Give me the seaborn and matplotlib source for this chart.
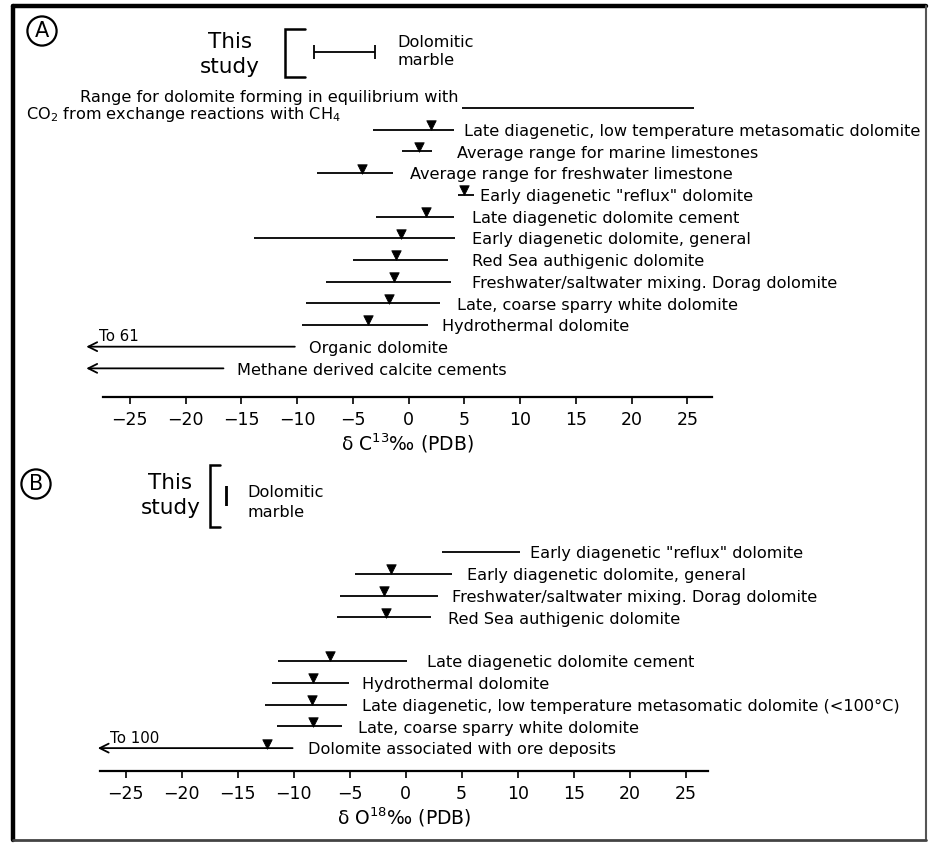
import numpy as np
import pandas as pd
import matplotlib
matplotlib.use("Agg")
import matplotlib.pyplot as plt
import matplotlib.transforms as mtransforms
from matplotlib.lines import Line2D
import seaborn as sns

nan = np.nan

# ---------------- Panel A : delta 13C (per mil PDB) ----------------
a_labels = [
    "Range for dolomite forming in equilibrium with",
    "Late diagenetic, low temperature metasomatic dolomite",
    "Average range for marine limestones",
    "Average range for freshwater limestone",
    'Early diagenetic "reflux" dolomite',
    "Late diagenetic dolomite cement",
    "Early diagenetic dolomite, general",
    "Red Sea authigenic dolomite",
    "Freshwater/saltwater mixing. Dorag dolomite",
    "Late, coarse sparry white dolomite",
    "Hydrothermal dolomite",
    "Organic dolomite",
    "Methane derived calcite cements",
]
a_low = [4.8, -3.2, -0.6, -8.2, 4.4, -2.9, -13.9, -5.0, -7.4, -9.2, -9.6, -28.9, -28.9]
a_high = [25.6, 4.1, 2.1, -1.4, 5.9, 4.1, 4.2, 3.5, 3.8, 2.8, 1.7, -10.2, -16.6]
a_mean = [nan, 2.0, 0.9, -4.2, 5.0, 1.6, -0.7, -1.1, -1.3, -1.8, -3.6, nan, nan]
a_open = [False, False, False, False, False, False, False, False, False, False, False, True, True]
a_note = ["", "", "", "", "", "", "", "", "", "", "", "To 61", ""]
a_study = [-8.5, -3.0]
a_xlabel = r"δ C$^{13}$‰ (PDB)"

# ---------------- Panel B : delta 18O (per mil PDB) ----------------
b_labels = [
    'Early diagenetic "reflux" dolomite',
    "Early diagenetic dolomite, general",
    "Freshwater/saltwater mixing. Dorag dolomite",
    "Red Sea authigenic dolomite",
    "Late diagenetic dolomite cement",
    "Hydrothermal dolomite",
    "Late diagenetic, low temperature metasomatic dolomite (<100\u00b0C)",
    "Late, coarse sparry white dolomite",
    "Dolomite associated with ore deposits",
]
b_low = [3.2, -4.5, -5.9, -6.1, -11.4, -11.9, -12.6, -11.5, -27.5]
b_high = [10.2, 4.1, 2.9, 2.3, 0.1, -5.1, -5.2, -5.7, -10.1]
b_mean = [nan, -1.3, -1.9, -1.8, -6.8, -8.3, -8.4, -8.3, -12.4]
b_open = [False, False, False, False, False, False, False, False, True]
b_note = ["", "", "", "", "", "", "", "", "To 100"]
b_study = [-16.03, -15.97]
b_xlabel = r"δ O$^{18}$‰ (PDB)"

x_ticks = [-25, -20, -15, -10, -5, 0, 5, 10, 15, 20, 25]

# ---------------- layout (positions only) ----------------
a_rows = list(range(len(a_labels)))
b_rows = [0, 1, 2, 3, 5, 6, 7, 8, 9]
a_label_x = [None, 5.0, 4.3, 0.1, 6.4, 5.7, 5.7, 5.7, 5.7, 4.3, 3.0, -8.9, -15.4]
b_label_x = [11.1, 5.45, 4.1, 3.75, 1.9, -3.9, -3.9, -4.3, -8.7]

sns.set_theme(style="white")
plt.rcParams["font.family"] = ["DejaVu Sans"]
plt.rcParams["axes.unicode_minus"] = True
plt.rcParams["text.color"] = "black"
plt.rcParams["axes.labelcolor"] = "black"
plt.rcParams["xtick.color"] = "black"

W, H = 930, 843
fig = plt.figure(figsize=(W / 100, H / 100), dpi=100)
fig.patch.set_facecolor("white")


def fx(px):
    return px / W


def fy(py):
    return 1 - py / H


LABEL_FS = 11.6
LW = 1.3


def draw_panel(ax, labels, low, high, mean, is_open, note, rows, label_x, skip_first_label=False):
    df = pd.DataFrame({"label": labels, "low": low, "high": high, "mean": mean,
                       "open": is_open, "note": note, "row": rows, "lx": label_x})
    closed = df[~df["open"]]
    ax.hlines(closed["row"], closed["low"], closed["high"], color="black", lw=LW, zorder=2)
    for _, r in df[df["open"]].iterrows():
        ax.annotate("", xy=(r["low"], r["row"]), xytext=(r["high"], r["row"]),
                    arrowprops=dict(arrowstyle="->", lw=LW, color="black",
                                    mutation_scale=16, shrinkA=0, shrinkB=0),
                    annotation_clip=False)
        if r["note"]:
            ax.text(r["low"] + 1.1, r["row"] - 0.12, r["note"], fontsize=LABEL_FS - 0.8,
                    ha="left", va="bottom", clip_on=False)
    pts = df.dropna(subset=["mean"])
    sns.scatterplot(data=pts, x="mean", y="row", marker="v", s=46, color="black",
                    edgecolor="black", linewidth=0.6, ax=ax, legend=False, zorder=3)
    coll = ax.collections[-1]
    coll.set_offset_transform(ax.transData + mtransforms.ScaledTranslation(0, 3.3 / 72, fig.dpi_scale_trans))
    for i, r in df.iterrows():
        if skip_first_label and i == 0:
            continue
        ax.text(r["lx"], r["row"] + 0.08, r["label"], fontsize=LABEL_FS, ha="left",
                va="center", clip_on=False)


def style_axis(ax, xlabel, xlim, ylim):
    ax.set_xlim(*xlim)
    ax.set_ylim(*ylim)
    for s in ["left", "right", "top"]:
        ax.spines[s].set_visible(False)
    ax.spines["bottom"].set_visible(True)
    ax.spines["bottom"].set_color("black")
    ax.spines["bottom"].set_linewidth(1.6)
    ax.set_yticks([])
    ax.set_ylabel("")
    ax.set_xticks(x_ticks)
    ax.set_xticklabels([f"{t}".replace("-", "\u2212") for t in x_ticks])
    ax.tick_params(axis="x", direction="out", length=5, width=1.2, color="black",
                   labelsize=12.5, pad=5, bottom=True, labelcolor="black")
    ax.set_xlabel(xlabel, fontsize=13.5, labelpad=2, color="black")
    ax.patch.set_alpha(0)


# ---------------- Panel A ----------------
axA = fig.add_axes([fx(103), fy(397), fx(712) - fx(103), fy(20) - fy(397)])
draw_panel(axA, a_labels, a_low, a_high, a_mean, a_open, a_note, a_rows, a_label_x,
           skip_first_label=True)
style_axis(axA, a_xlabel, (-27.4, 27.2), (13.32, -4.06))
axA.text(a_low[0] - 0.3, a_rows[0] - 0.5, a_labels[0], fontsize=LABEL_FS, ha="right",
         va="center", clip_on=False)
axA.text(-34.3, a_rows[0] + 0.3, r"CO$_2$ from exchange reactions with CH$_4$",
         fontsize=LABEL_FS, ha="left", va="center", clip_on=False)

# This study (A)
ya = -2.58
axA.errorbar([np.mean(a_study)], [ya], xerr=[[np.mean(a_study) - a_study[0]], [a_study[1] - np.mean(a_study)]],
             fmt="none", ecolor="black", elinewidth=1.3, capsize=4.8, capthick=1.3)
axA.plot([-9.3, -11.1, -11.1, -9.3], [-3.64, -3.64, -1.43, -1.43], color="black", lw=1.8,
         clip_on=False, solid_joinstyle="miter")
axA.text(-16.05, -3.04, "This", fontsize=15.5, ha="center", va="center")
axA.text(-16.05, -1.89, "study", fontsize=15.5, ha="center", va="center")
axA.text(-1.0, -3.04, "Dolomitic", fontsize=LABEL_FS, ha="left", va="center")
axA.text(-1.0, -2.17, "marble", fontsize=LABEL_FS, ha="left", va="center")

# ---------------- Panel B ----------------
axB = fig.add_axes([fx(100), fy(771), fx(708) - fx(100), fy(462) - fy(771)])
draw_panel(axB, b_labels, b_low, b_high, b_mean, b_open, b_note, b_rows, b_label_x)
style_axis(axB, b_xlabel, (-27.3, 27.0), (10.05, -4.13))

yb = -2.57
axB.errorbar([np.mean(b_study)], [yb], xerr=[[np.mean(b_study) - b_study[0]], [b_study[1] - np.mean(b_study)]],
             fmt="none", ecolor="black", elinewidth=1.3, capsize=7.5, capthick=1.3)
axB.plot([-16.6, -17.5, -17.5, -16.6], [-3.99, -3.99, -1.15, -1.15], color="black", lw=1.8,
         clip_on=False, solid_joinstyle="miter")
axB.text(-21.0, -3.17, "This", fontsize=15.5, ha="center", va="center")
axB.text(-21.0, -2.02, "study", fontsize=15.5, ha="center", va="center")
axB.text(-14.1, -2.75, "Dolomitic", fontsize=LABEL_FS, ha="left", va="center")
axB.text(-14.1, -1.83, "marble", fontsize=LABEL_FS, ha="left", va="center")

# ---------------- panel letters & frame ----------------
for letter, (cx, cy) in [("A", (42, 31)), ("B", (36, 484))]:
    fig.text(fx(cx), fy(cy), letter, fontsize=15, ha="center", va="center",
             bbox=dict(boxstyle="circle,pad=0.22", fc="white", ec="black", lw=1.6))

# frame: heavy on left/top, light on right/bottom (as in the scanned original)
fig.add_artist(Line2D([fx(13), fx(13)], [fy(840), fy(6)], transform=fig.transFigure, color="black", lw=3.2))
fig.add_artist(Line2D([fx(13), fx(926)], [fy(6), fy(6)], transform=fig.transFigure, color="black", lw=3.2))
fig.add_artist(Line2D([fx(926), fx(926)], [fy(6), fy(840)], transform=fig.transFigure, color="#555555", lw=1.5))
fig.add_artist(Line2D([fx(13), fx(926)], [fy(840), fy(840)], transform=fig.transFigure, color="#444444", lw=2.0))

fig.savefig("out.png", dpi=100, facecolor="white")
